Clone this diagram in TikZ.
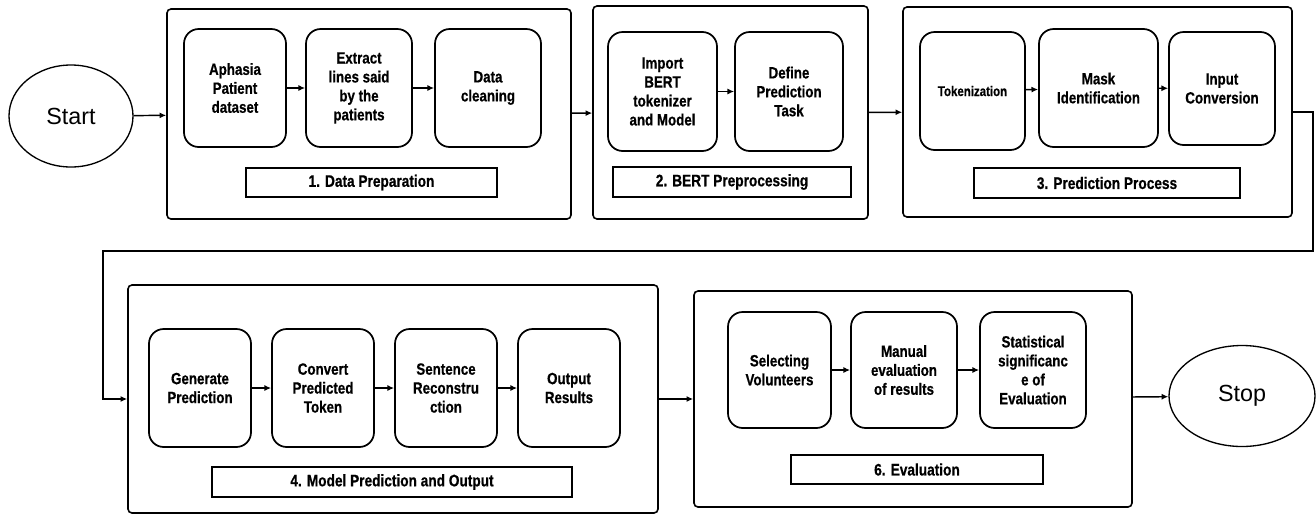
\documentclass[tikz,border=0pt]{standalone}
\usepackage{fontspec}
\setmainfont{Liberation Sans}
\newfontfamily\narrowfont{Liberation Sans Bold}[FakeStretch=0.82, FakeBold=0.6]
\usetikzlibrary{shapes.geometric, arrows.meta}
\tikzstyle{stagebox} = [draw, line width=1.2pt, rounded corners=3pt]
\tikzstyle{stepbox} = [draw, line width=1.3pt, rounded corners=11pt, align=center, inner sep=2pt, font=\narrowfont\fontsize{12.2}{14.2}\selectfont]
\tikzstyle{titlebox} = [draw, line width=1.3pt, font=\narrowfont\fontsize{12.5}{15}\selectfont]
\tikzstyle{terminal} = [draw, ellipse, line width=1pt, font=\fontsize{17.5}{20}\selectfont]
\tikzstyle{flow} = [-{Latex[length=5pt,width=4.5pt]}, line width=1.1pt]

\begin{document}
\begin{tikzpicture}[x=0.75pt, y=-0.75pt]
    \useasboundingbox (0,0) rectangle (1316,515);

    % Start
    \node[terminal, minimum width=93pt, minimum height=76.5pt] (start) at (71,116) {Start};

    % 1. Data preparation
    \node[stagebox, minimum width=303pt, minimum height=157.5pt] (prep) at (369,114) {};
    \node[stepbox, minimum width=76.5pt, minimum height=88.5pt] (dataset) at (235,88) {Aphasia\\Patient\\dataset};
    \node[stepbox, minimum width=79.5pt, minimum height=88.5pt] (extract) at (359,88) {Extract\\lines said\\by the\\patients};
    \node[stepbox, minimum width=79.5pt, minimum height=88.5pt] (clean) at (488,88) {Data\\cleaning};
    \node[titlebox, minimum width=188.25pt, minimum height=21.75pt] (prepT) at (371.5,182.5) {1. Data Preparation};

    % 2. BERT preprocessing
    \node[stagebox, minimum width=206.25pt, minimum height=159.75pt] (bert) at (730.5,112.5) {};
    \node[stepbox, minimum width=81.75pt, minimum height=89.25pt] (import) at (662.5,91.5) {Import\\BERT\\tokenizer\\and Model};
    \node[stepbox, minimum width=81pt, minimum height=89.25pt] (define) at (789,91.5) {Define\\Prediction\\Task};
    \node[titlebox, minimum width=178.5pt, minimum height=22.5pt] (bertT) at (732,182) {2. BERT Preprocessing};

    % 3. Prediction process
    \node[stagebox, minimum width=291.75pt, minimum height=157.5pt] (predict) at (1097.5,112) {};
    \node[stepbox, minimum width=78.75pt, minimum height=88.5pt, font=\narrowfont\fontsize{10.5}{13}\selectfont] (token) at (972.5,91) {Tokenization};
    \node[stepbox, minimum width=89.25pt, minimum height=88.5pt] (mask) at (1098.5,88) {Mask\\Identification};
    \node[stepbox, minimum width=79.5pt, minimum height=84.75pt] (input) at (1222,88.5) {Input\\Conversion};
    \node[titlebox, minimum width=199.5pt, minimum height=22.5pt] (predictT) at (1107,183) {3. Prediction Process};

    % 4. Model prediction and output
    \node[stagebox, minimum width=397.5pt, minimum height=171pt] (output) at (393,399) {};
    \node[stepbox, minimum width=76.5pt, minimum height=88.5pt] (generate) at (200,388) {Generate\\Prediction};
    \node[stepbox, minimum width=76.5pt, minimum height=88.5pt] (convert) at (323,388) {Convert\\Predicted\\Token};
    \node[stepbox, minimum width=76.5pt, minimum height=88.5pt] (rebuild) at (446,388) {Sentence\\Reconstru\\ction};
    \node[stepbox, minimum width=76.5pt, minimum height=88.5pt] (results) at (569,388) {Output\\Results};
    \node[titlebox, minimum width=270pt, minimum height=22.5pt] (outputT) at (392,482) {4. Model Prediction and Output};

    % 6. Evaluation
    \node[stagebox, minimum width=328.5pt, minimum height=162pt] (evaluate) at (913,399) {};
    \node[stepbox, minimum width=77.25pt, minimum height=87pt] (volunteer) at (779.5,370) {Selecting\\Volunteers};
    \node[stepbox, minimum width=79.5pt, minimum height=87pt] (manual) at (904,370) {Manual\\evaluation\\of results};
    \node[stepbox, minimum width=79.5pt, minimum height=87pt] (stats) at (1033,370) {Statistical\\significanc\\e of\\Evaluation};
    \node[titlebox, minimum width=189pt, minimum height=21.75pt] (evaluateT) at (917,469.5) {6. Evaluation};

    % Stop
    \node[terminal, minimum width=109.5pt, minimum height=75.75pt] (stop) at (1242,396) {Stop};

    % Arrows
    \foreach \a/\b in {start/prep, dataset/extract, extract/clean, prep/bert, import/define,
                       bert/predict, token/mask, mask/input, generate/convert, convert/rebuild,
                       rebuild/results, output/evaluate, volunteer/manual, manual/stats, evaluate/stop} {
        \draw[flow] (\a) -- (\b);
    }

    % Wrap to second row
    \coordinate (wrapR) at (1313,251);
    \coordinate (wrapL) at (103,251);
    \draw[flow] (predict.east) -| (wrapR) -- (wrapL) |- (output.west);
\end{tikzpicture}
\end{document}
